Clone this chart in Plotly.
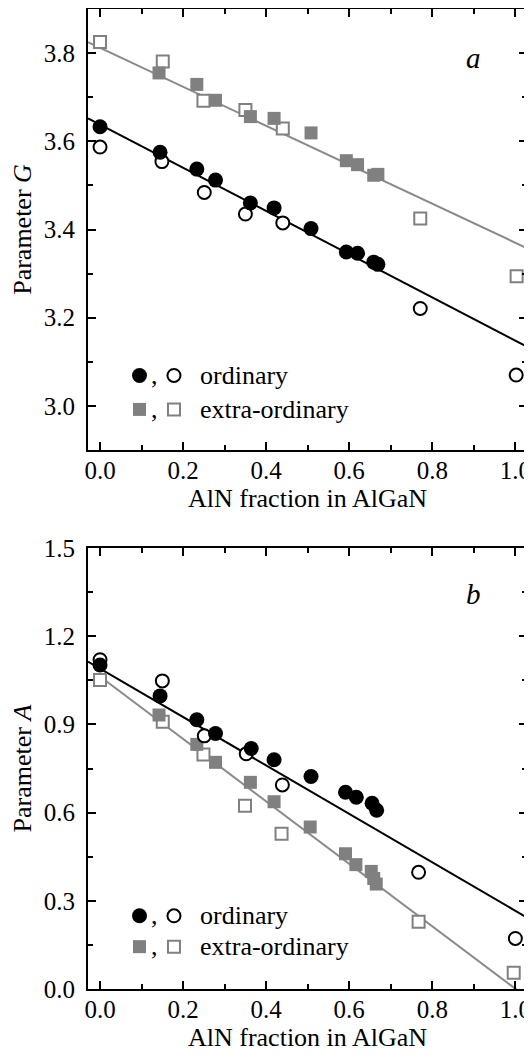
import plotly.graph_objects as go

# ---------------- data ----------------
# Panel a: Parameter G
g_ord_fill_x = [0.0, 0.1445, 0.233, 0.278, 0.362, 0.419, 0.508, 0.593, 0.620, 0.659, 0.669]
g_ord_fill_y = [3.633, 3.575, 3.537, 3.512, 3.460, 3.449, 3.402, 3.349, 3.346, 3.326, 3.321]
g_ord_open_x = [0.0, 0.149, 0.251, 0.350, 0.440, 0.771, 1.002]
g_ord_open_y = [3.587, 3.554, 3.484, 3.435, 3.415, 3.221, 3.070]
g_ext_fill_x = [0.142, 0.233, 0.278, 0.362, 0.419, 0.508, 0.593, 0.620, 0.659, 0.669]
g_ext_fill_y = [3.755, 3.729, 3.693, 3.656, 3.652, 3.619, 3.556, 3.547, 3.523, 3.525]
g_ext_open_x = [0.0, 0.151, 0.249, 0.350, 0.440, 0.771, 1.003]
g_ext_open_y = [3.825, 3.781, 3.692, 3.671, 3.629, 3.425, 3.294]
g_fit_ord = (3.638, -0.490)   # intercept, slope
g_fit_ext = (3.812, -0.442)

# Panel b: Parameter A
a_ord_fill_x = [0.0, 0.1445, 0.233, 0.278, 0.364, 0.419, 0.508, 0.591, 0.617, 0.655, 0.666]
a_ord_fill_y = [1.102, 0.997, 0.916, 0.869, 0.818, 0.780, 0.723, 0.669, 0.652, 0.632, 0.608]
a_ord_open_x = [0.0, 0.150, 0.251, 0.352, 0.439, 0.767, 1.0]
a_ord_open_y = [1.120, 1.048, 0.861, 0.800, 0.694, 0.397, 0.172]
a_ext_fill_x = [0.142, 0.233, 0.278, 0.362, 0.419, 0.506, 0.591, 0.616, 0.653, 0.659, 0.665]
a_ext_fill_y = [0.932, 0.832, 0.771, 0.703, 0.637, 0.551, 0.460, 0.423, 0.400, 0.376, 0.357]
a_ext_open_x = [0.0, 0.151, 0.249, 0.349, 0.437, 0.767, 0.996]
a_ext_open_y = [1.051, 0.909, 0.798, 0.623, 0.528, 0.229, 0.055]
a_fit_ord = (1.090, -0.824)
a_fit_ext = (1.063, -1.062)

x_ticks = [0.0, 0.2, 0.4, 0.6, 0.8, 1.0]
g_ticks = [3.0, 3.2, 3.4, 3.6, 3.8]
a_ticks = [0.0, 0.3, 0.6, 0.9, 1.2, 1.5]

# ---------------- style ----------------
FONT = "Liberation Serif"
BLACK = "#000000"
GRAY = "#808080"
GRAY_LINE = "#8a8a8a"
XR = [-0.029, 1.028]

fig = go.Figure()


def fit_line(fit, x0, x1, color, xa, ya):
    b, m = fit
    xs = [x0, x1]
    ys = [b + m * x for x in xs]
    fig.add_trace(go.Scatter(x=xs, y=ys, mode="lines", line=dict(color=color, width=2),
                             xaxis=xa, yaxis=ya, showlegend=False, hoverinfo="skip"))


def pts(x, y, symbol, color, fill, xa, ya, size):
    fig.add_trace(go.Scatter(
        x=x, y=y, mode="markers", xaxis=xa, yaxis=ya, showlegend=False,
        cliponaxis=False,
        marker=dict(symbol=symbol, size=size, color=fill,
                    line=dict(color=color, width=2 if fill == "white" else 0))))


# panel a
fit_line(g_fit_ext, XR[0], XR[1], GRAY_LINE, "x", "y")
fit_line(g_fit_ord, XR[0], XR[1], BLACK, "x", "y")
pts(g_ext_open_x, g_ext_open_y, "square", GRAY, "white", "x", "y", 12)
pts(g_ext_fill_x, g_ext_fill_y, "square", GRAY, GRAY, "x", "y", 13)
pts(g_ord_open_x, g_ord_open_y, "circle", BLACK, "white", "x", "y", 13)
pts(g_ord_fill_x, g_ord_fill_y, "circle", BLACK, BLACK, "x", "y", 15)

# panel b
fit_line(a_fit_ext, 0.0, XR[1], GRAY_LINE, "x2", "y2")
fit_line(a_fit_ord, XR[0], XR[1], BLACK, "x2", "y2")
pts(a_ext_open_x, a_ext_open_y, "square", GRAY, "white", "x2", "y2", 12)
pts(a_ext_fill_x, a_ext_fill_y, "square", GRAY, GRAY, "x2", "y2", 13)
pts(a_ord_open_x, a_ord_open_y, "circle", BLACK, "white", "x2", "y2", 13)
pts(a_ord_fill_x, a_ord_fill_y, "circle", BLACK, BLACK, "x2", "y2", 15)

# legends (drawn inside each panel)
LEG_FILL_X, LEG_OPEN_X, LEG_COMMA_X, LEG_TEXT_X = 0.095, 0.178, 0.131, 0.236
legend_rows = {"a": ("x", "y", 3.069, 2.992), "b": ("x2", "y2", 0.249, 0.144)}
annotations = []
for key, (xa, ya, r1, r2) in legend_rows.items():
    pts([LEG_FILL_X], [r1], "circle", BLACK, BLACK, xa, ya, 15)
    pts([LEG_OPEN_X], [r1], "circle", BLACK, "white", xa, ya, 13)
    pts([LEG_FILL_X], [r2], "square", GRAY, GRAY, xa, ya, 13)
    pts([LEG_OPEN_X], [r2], "square", GRAY, "white", xa, ya, 12)
    for ry, label in ((r1, "ordinary"), (r2, "extra-ordinary")):
        annotations.append(dict(x=LEG_COMMA_X, y=ry, xref=xa, yref=ya, text=",", showarrow=False,
                                xanchor="center", yanchor="middle",
                                font=dict(family=FONT, size=26, color=BLACK)))
        annotations.append(dict(x=LEG_TEXT_X, y=ry, xref=xa, yref=ya, text=label, showarrow=False,
                                xanchor="left", yanchor="middle",
                                font=dict(family=FONT, size=26, color=BLACK)))

annotations.append(dict(x=0.879, y=0.89, xref="x domain", yref="y domain", text="<i>a</i>",
                        showarrow=False, xanchor="center", yanchor="middle",
                        font=dict(family=FONT, size=29, color=BLACK)))
annotations.append(dict(x=0.879, y=0.895, xref="x2 domain", yref="y2 domain", text="<i>b</i>",
                        showarrow=False, xanchor="center", yanchor="middle",
                        font=dict(family=FONT, size=29, color=BLACK)))

axis_common = dict(showline=True, linecolor=BLACK, linewidth=2, mirror="allticks",
                   ticks="inside", ticklen=8, tickwidth=1.5, tickcolor=BLACK,
                   showgrid=False, zeroline=False, automargin=False,
                   tickfont=dict(family=FONT, size=25, color=BLACK),
                   minor=dict(ticks="inside", ticklen=5, tickwidth=1.5, tickcolor=BLACK, showgrid=False))

xa_common = dict(axis_common, range=XR, tickvals=x_ticks, tickformat=".1f",
                 title=dict(text="AlN fraction in AlGaN", font=dict(family=FONT, size=26, color=BLACK), standoff=5),
                 ticklabelstandoff=-3)
xa_common["minor"] = dict(axis_common["minor"], dtick=0.1, tick0=0)

fig.update_layout(
    template="none",
    width=532, height=1055,
    margin=dict(l=80, r=13, t=1, b=74),
    paper_bgcolor="white", plot_bgcolor="white",
    showlegend=False,
    xaxis=dict(xa_common, anchor="y", domain=[0, 1]),
    xaxis2=dict(xa_common, anchor="y2", domain=[0, 1]),
    yaxis=dict(axis_common, anchor="x", domain=[0.55, 1.0], range=[2.9, 3.9],
               tickvals=g_ticks, tickformat=".1f", ticklabelstandoff=6,
               minor=dict(axis_common["minor"], dtick=0.1, tick0=0),
               title=dict(text="Parameter <i>G</i>", font=dict(family=FONT, size=26, color=BLACK), standoff=17)),
    yaxis2=dict(axis_common, anchor="x2", domain=[0.0, 0.45], range=[0.0, 1.5],
                tickvals=a_ticks, tickformat=".1f", ticklabelstandoff=6,
                minor=dict(axis_common["minor"], dtick=0.15, tick0=0),
                title=dict(text="Parameter <i>A</i>", font=dict(family=FONT, size=26, color=BLACK), standoff=17)),
    annotations=annotations,
)

fig.write_html("out.html")
